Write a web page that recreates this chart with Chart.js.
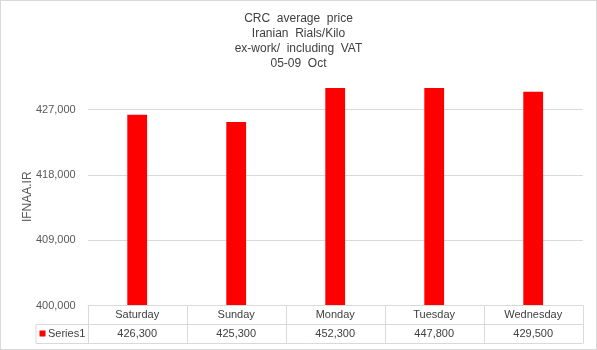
<!DOCTYPE html>
<html>
<head>
<meta charset="utf-8">
<script src="https://cdn.jsdelivr.net/npm/chart.js@4"></script>
<style>
  html, body { margin: 0; padding: 0; background: #fff; }
  #wrap { width: 597px; height: 350px; }
</style>
</head>
<body>
<div id="wrap"><canvas id="myChart" width="597" height="350"></canvas></div>
<script>
const days = ["Saturday", "Sunday", "Monday", "Tuesday", "Wednesday"];
const series1 = [426300, 425300, 452300, 447800, 429500];
const yTicks = [400000, 409000, 418000, 427000];
const yMin = 400000;
const yMax = 430000;
const titleLines = ["CRC  average  price", "Iranian  Rials/Kilo", "ex-work/  including  VAT", "05-09  Oct"];
const seriesName = "Series1";

const gridColor = "#d9d9d9";
const textColor = "#595959";
const fontFamily = "'Liberation Sans', Arial, sans-serif";

const fmt = (v) => v.toLocaleString("en-US");

const frameAndTable = {
  id: "frameAndTable",
  beforeDraw(chart) {
    const ctx = chart.ctx;
    ctx.save();
    ctx.fillStyle = "#fff";
    ctx.fillRect(0, 0, chart.width, chart.height);
    ctx.restore();
  },
  afterDraw(chart) {
    const ctx = chart.ctx;
    const area = chart.chartArea;
    const colW = area.width / days.length;
    const rowH = 19;
    const top = area.bottom;
    const mid = top + rowH;
    const bottom = mid + rowH;
    const legendLeft = 36;

    ctx.save();
    ctx.strokeStyle = gridColor;
    ctx.lineWidth = 1;
    ctx.beginPath();
    ctx.moveTo(area.left, top);
    ctx.lineTo(area.right, top);
    ctx.moveTo(legendLeft, mid);
    ctx.lineTo(area.right, mid);
    ctx.moveTo(legendLeft, bottom);
    ctx.lineTo(area.right, bottom);
    ctx.moveTo(legendLeft, mid);
    ctx.lineTo(legendLeft, bottom);
    for (let i = 0; i <= days.length; i++) {
      const x = Math.round(area.left + i * colW) + 0.5;
      ctx.moveTo(x, top);
      ctx.lineTo(x, bottom);
    }
    ctx.stroke();

    ctx.font = "11px " + fontFamily;
    ctx.fillStyle = "#404040";
    ctx.textAlign = "center";
    ctx.textBaseline = "middle";
    for (let i = 0; i < days.length; i++) {
      const cx = area.left + (i + 0.5) * colW;
      ctx.fillText(days[i], cx, top + rowH / 2);
      ctx.fillText(fmt(series1[i]), cx, mid + rowH / 2);
    }

    ctx.fillStyle = "#ff0000";
    ctx.fillRect(39.5, mid + 6, 6, 6);
    ctx.fillStyle = "#404040";
    ctx.textAlign = "left";
    ctx.fillText(seriesName, 48, mid + rowH / 2);

    ctx.strokeStyle = gridColor;
    ctx.strokeRect(0.5, 0.5, chart.width - 1, chart.height - 1);
    ctx.restore();
  },
};

const myChart = document.querySelector("#myChart").getContext("2d");

new Chart(myChart, {
  type: "bar",
  data: {
    labels: days,
    datasets: [
      {
        label: seriesName,
        data: series1,
        backgroundColor: "#ff0000",
        barPercentage: 0.2,
        categoryPercentage: 1.0,
        yAxisID: "y",
      },
    ],
  },
  options: {
    responsive: false,
    animation: false,
    devicePixelRatio: 1,
    layout: {
      padding: { left: 0, right: 0, top: 0, bottom: 44.5 },
    },
    plugins: {
      legend: { display: false },
      tooltip: { enabled: false },
      title: {
        display: true,
        text: titleLines,
        color: "#404040",
        font: { family: fontFamily, size: 12, weight: "normal", lineHeight: 1.25 },
        padding: { top: 11.5, bottom: 16.5 },
      },
    },
    scales: {
      x: {
        display: false,
      },
      y: {
        min: yMin,
        max: yMax,
        border: { display: false },
        grid: { color: gridColor, drawTicks: false },
        afterBuildTicks(axis) {
          axis.ticks = yTicks.map((v) => ({ value: v }));
        },
        afterFit(axis) {
          axis.width = 87.7;
        },
        ticks: {
          color: textColor,
          padding: 12,
          font: { family: fontFamily, size: 11 },
          callback: (v) => fmt(v),
        },
        title: {
          display: true,
          text: "IFNAA.IR",
          color: textColor,
          font: { family: fontFamily, size: 12 },
          padding: { top: 20, bottom: 0 },
        },
      },
      spacer: {
        position: "right",
        border: { display: false },
        grid: { display: false },
        ticks: { display: false },
        afterFit(axis) {
          axis.width = 14.3;
        },
      },
    },
  },
  plugins: [frameAndTable],
});
</script>
</body>
</html>
